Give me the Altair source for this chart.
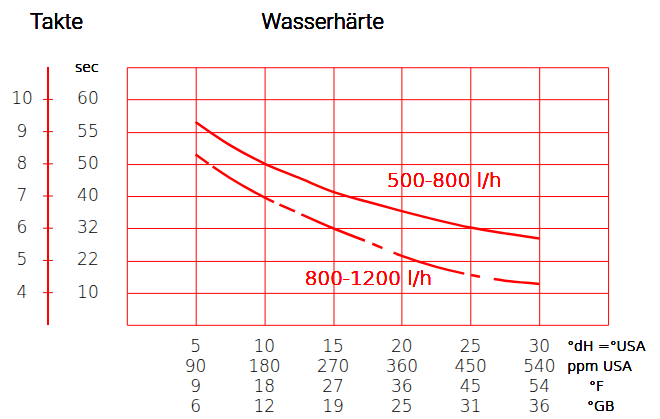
import altair as alt
import pandas as pd

# ---- data ----
dh_pts = [5, 7.5, 10, 12.5, 15, 17.5, 20, 22.5, 25, 27.5, 30]
takte_500_800 = [9.30, 8.58, 8.01, 7.57, 7.13, 6.82, 6.53, 6.26, 6.02, 5.84, 5.68]
takte_800_1200 = [8.29, 7.56, 6.96, 6.47, 6.00, 5.58, 5.14, 4.80, 4.55, 4.37, 4.27]

takte_ticks = [10, 9, 8, 7, 6, 5, 4]
sec_labels = ["60", "55", "50", "40", "32", "22", "10"]

dh_labels = [5, 10, 15, 20, 25, 30]
ppm_labels = ["90", "180", "270", "360", "450", "540"]
f_labels = ["9", "18", "27", "36", "45", "54"]
gb_labels = ["6", "12", "19", "25", "31", "36"]
unit_labels = ["°dH =°USA", "ppm USA", "°F", "°GB"]

RED = "#ff0000"
NUM = "DejaVu Sans"
SANS = "Roboto"

df_up = pd.DataFrame({"dh": dh_pts, "takte": takte_500_800})
df_lo = pd.DataFrame({"dh": dh_pts, "takte": takte_800_1200})
df_ticks = pd.DataFrame({"takte": takte_ticks, "sec": sec_labels,
                         "lab": [str(t) for t in takte_ticks]})
df_bottom = pd.DataFrame({"dh": dh_labels, "r1": [str(v) for v in dh_labels],
                          "r2": ppm_labels, "r3": f_labels, "r4": gb_labels})

xscale = alt.Scale(domain=[0, 35], nice=False, zero=False)
yscale = alt.Scale(domain=[3, 11], nice=False, zero=False)

x_axis = alt.Axis(values=[0, 5, 10, 15, 20, 25, 30, 35], grid=True, gridColor=RED,
                  gridOpacity=1, gridWidth=1, labels=False, ticks=False,
                  domain=False, title=None)
y_axis = alt.Axis(values=[3, 4, 5, 6, 7, 8, 9, 10, 11], grid=True, gridColor=RED,
                  gridOpacity=1, gridWidth=1, labels=False, ticks=False,
                  domain=False, title=None)

X = lambda f: alt.X(f, scale=xscale, axis=x_axis)
Y = lambda f: alt.Y(f, scale=yscale, axis=y_axis)

upper = alt.Chart(df_up).mark_line(color=RED, strokeWidth=2.5, interpolate="monotone").encode(
    x=X("dh:Q"), y=Y("takte:Q"),
)

lower = alt.Chart(df_lo).mark_line(
    color=RED, strokeWidth=2.5, interpolate="monotone",
    strokeDash=[16, 5, 71, 6, 17, 7, 69, 8, 11, 12, 74, 7, 9, 14, 80],
).encode(x=X("dh:Q"), y=Y("takte:Q"))

# left axis line and ticks
axis_line = alt.Chart(df_ticks).mark_rule(color=RED, strokeWidth=1.5).encode(
    x=alt.value(-79),
    y=alt.datum(3, scale=yscale, axis=y_axis),
    y2=alt.datum(11),
)
axis_ticks = alt.Chart(df_ticks).mark_rule(color=RED, strokeWidth=1).encode(
    x=alt.value(-84), x2=alt.value(-74), y=Y("takte:Q"),
)
txt = dict(fontWeight=200, baseline="middle")
txt3 = dict(fontWeight=300, baseline="middle")
takte_text = alt.Chart(df_ticks).mark_text(font=NUM, fontSize=17, align="center",
                                           color="black", **txt).encode(
    x=alt.value(-105), y=Y("takte:Q"), text="lab:N")
sec_text = alt.Chart(df_ticks).mark_text(font=NUM, fontSize=17, align="center",
                                         color="black", **txt).encode(
    x=alt.value(-39), y=Y("takte:Q"), text="sec:N")
sec_title = alt.Chart(df_ticks).mark_text(font=NUM, fontSize=14, align="center",
                                          color="black", text="sec", **txt).encode(
    x=alt.value(-40), y=alt.value(1))

# bottom label rows
rows = []
for col, ypx in [("r1", 280), ("r2", 300), ("r3", 320), ("r4", 340)]:
    rows.append(alt.Chart(df_bottom).mark_text(font=NUM, fontSize=17, align="center",
                                               color="black", **txt).encode(
        x=X("dh:Q"), y=alt.value(ypx), text=f"{col}:N"))

units = []
for t, xpx, ypx in zip(unit_labels, [441, 441, 463, 461], [280, 300, 320, 340]):
    units.append(alt.Chart(df_ticks).mark_text(font=NUM, fontSize=14, align="left",
                                               color="black", text=t, **txt).encode(
        x=alt.value(xpx), y=alt.value(ypx)))

# curve labels
lab_up = alt.Chart(df_up).mark_text(font=NUM, fontSize=20, align="center",
                                    color=RED, text="500-800 l/h", **txt).encode(
    x=alt.value(318), y=alt.value(114))
lab_lo = alt.Chart(df_lo).mark_text(font=NUM, fontSize=20, align="center",
                                    color=RED, text="800-1200 l/h", **txt).encode(
    x=alt.value(242), y=alt.value(212))

# titles
t_takte = alt.Chart(df_ticks).mark_text(font=SANS, fontSize=22, align="left",
                                        color="black", text="Takte", **txt3).encode(
    x=alt.value(-97), y=alt.value(-45))
t_wasser = alt.Chart(df_ticks).mark_text(font=SANS, fontSize=22, align="left",
                                         color="black", text="Wasserhärte", **txt3).encode(
    x=alt.value(135), y=alt.value(-45))

chart = alt.layer(
    upper, lower, axis_line, axis_ticks, takte_text, sec_text, sec_title,
    *rows, *units, lab_up, lab_lo, t_takte, t_wasser,
).properties(
    width=482, height=258,
    padding={"left": 119, "top": 59, "right": 44, "bottom": 92},
    autosize=alt.AutoSizeParams(type="none"),
    background="white",
).configure_view(strokeWidth=0)

chart.save("out.html", embed_options={"renderer": "svg", "actions": False})
